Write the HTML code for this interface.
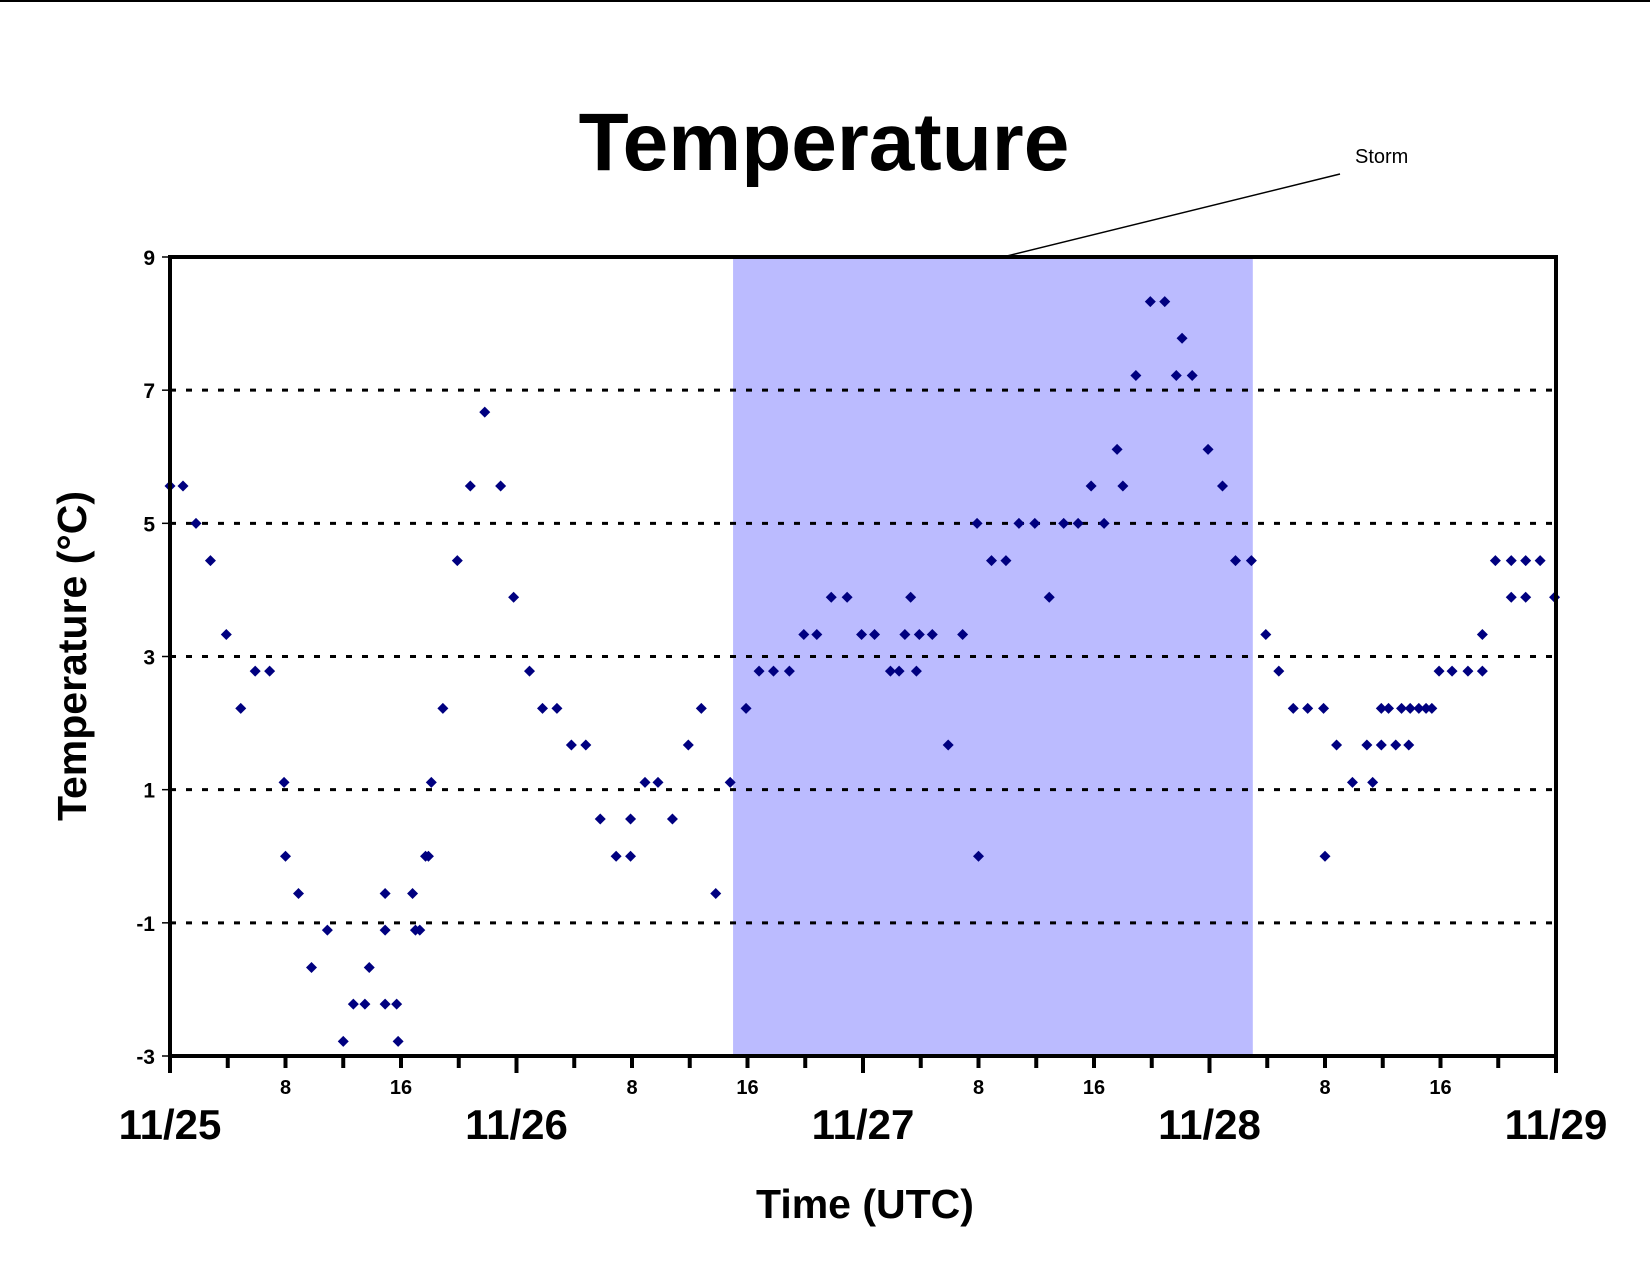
<!DOCTYPE html>
<html><head><meta charset="utf-8"><style>
html,body{margin:0;padding:0;background:#fff}
svg{display:block;font-family:"Liberation Sans",Arial,sans-serif}
</style></head><body>
<svg id="chart" width="1650" height="1275" viewBox="0 0 1650 1275" xmlns="http://www.w3.org/2000/svg">
<rect x="0" y="0" width="1650" height="1275" fill="#fff"/>
<line x1="0" y1="1" x2="1650" y2="1" stroke="#000" stroke-width="2"/>
<text x="824" y="170" text-anchor="middle" font-size="82" font-weight="bold">Temperature</text>
<g id="storm"></g>
<g id="grid"></g>
<g id="points"></g>
<g id="axes"></g>
<text x="1355" y="163" font-size="20">Storm</text>
<line x1="1340" y1="174" x2="1007" y2="256" stroke="#000" stroke-width="1.5"/>
<text transform="translate(86,656) rotate(-90)" text-anchor="middle" font-size="41" font-weight="bold">Temperature (°C)</text>
<text x="865" y="1218" text-anchor="middle" font-size="41" font-weight="bold">Time (UTC)</text>
</svg>
<script>
const hours=[0,0.9,1.8,2.8,3.9,4.9,5.9,6.9,7.9,8.0,8.9,9.8,10.9,12.0,12.7,13.5,13.8,14.9,14.9,14.9,15.7,15.8,16.8,17.0,17.3,17.7,17.9,18.1,18.9,19.9,20.8,21.8,22.9,23.8,24.9,25.8,26.8,27.8,28.8,29.8,30.9,31.9,31.9,32.9,33.8,34.8,35.9,36.8,37.8,38.8,39.9,40.8,41.8,42.9,43.9,44.8,45.8,46.9,47.9,48.8,49.9,50.5,51.3,50.9,51.7,51.9,52.8,53.9,54.9,55.9,56.0,56.9,57.9,58.8,59.9,60.9,61.9,62.9,63.8,64.7,65.6,66.0,66.9,67.9,68.9,69.7,70.1,70.8,71.9,72.9,73.8,74.9,75.9,76.8,77.8,78.8,79.9,80.0,80.8,81.9,82.9,83.3,83.9,83.9,84.4,84.9,85.3,85.8,85.9,86.5,87.0,87.4,87.9,88.8,89.9,90.9,90.9,91.8,92.9,92.9,93.9,93.9,94.9,95.9];
const temps=[5.56,5.56,5.0,4.44,3.33,2.22,2.78,2.78,1.11,0,-0.56,-1.67,-1.11,-2.78,-2.22,-2.22,-1.67,-0.56,-1.11,-2.22,-2.22,-2.78,-0.56,-1.11,-1.11,0,0,1.11,2.22,4.44,5.56,6.67,5.56,3.89,2.78,2.22,2.22,1.67,1.67,0.56,0,0.56,0,1.11,1.11,0.56,1.67,2.22,-0.56,1.11,2.22,2.78,2.78,2.78,3.33,3.33,3.89,3.89,3.33,3.33,2.78,2.78,3.89,3.33,2.78,3.33,3.33,1.67,3.33,5.0,0,4.44,4.44,5.0,5.0,3.89,5.0,5.0,5.56,5.0,6.11,5.56,7.22,8.33,8.33,7.22,7.78,7.22,6.11,5.56,4.44,4.44,3.33,2.78,2.22,2.22,2.22,0,1.67,1.11,1.67,1.11,2.22,1.67,2.22,1.67,2.22,1.67,2.22,2.22,2.22,2.22,2.78,2.78,2.78,2.78,3.33,4.44,4.44,3.89,4.44,3.89,4.44,3.89];
const yTicks=[9,7,5,3,1,-1,-3];
const gridVals=[7,5,3,1,-1];
const dayLabels=["11/25","11/26","11/27","11/28","11/29"];
const hourLabels=["8","16"];
const stormStart=39, stormEnd=75;
const X0=170,X1=1556,Y0=257,Y1=1056,HMAX=96,TMIN=-3,TMAX=9;
const NS="http://www.w3.org/2000/svg";
function xs(h){return X0+(h/HMAX)*(X1-X0);}
function ys(t){return Y1-(t-TMIN)/(TMAX-TMIN)*(Y1-Y0);}
function mk(tag,attrs,parent,txt){const e=document.createElementNS(NS,tag);for(const k in attrs)e.setAttribute(k,attrs[k]);if(txt!==undefined)e.textContent=txt;parent.appendChild(e);return e;}
const gS=document.getElementById('storm'),gG=document.getElementById('grid'),gP=document.getElementById('points'),gA=document.getElementById('axes');
const st=mk('rect',{x:xs(stormStart),y:Y0,width:xs(stormEnd)-xs(stormStart),height:Y1-Y0,fill:'#BBBBFF'},gS);


gridVals.forEach(v=>{const l=mk('line',{x1:X0,x2:X1,y1:ys(v),y2:ys(v),stroke:'#000','stroke-width':3,'stroke-dasharray':'6 10'},gG);

});
hours.forEach((h,i)=>{const x=xs(h),y=ys(temps[i]),r=5.5;
const p=mk('polygon',{points:`${x},${y-r} ${x+r},${y} ${x},${y+r} ${x-r},${y}`,fill:'#000080'},gP);

});
const frame=mk('rect',{x:X0,y:Y0,width:X1-X0,height:Y1-Y0,fill:'none',stroke:'#000','stroke-width':4},gA);


yTicks.forEach(v=>{const t=mk('line',{x1:X0-8,x2:X0,y1:ys(v),y2:ys(v),stroke:'#000','stroke-width':1.5},gA);


const lb=mk('text',{x:X0-15,y:ys(v)+8,'text-anchor':'end','font-size':21,'font-weight':'bold'},gA,String(v));

});
for(let h=0;h<=HMAX;h+=4){const day=h%24===0;
const t=mk('line',{x1:xs(h),x2:xs(h),y1:Y1,y2:Y1+(day?17:12),stroke:'#000','stroke-width':4},gA);


const hh=h%24;const idx=hh===8?0:(hh===16?1:-1);
if(idx>=0){const lb=mk('text',{x:xs(h),y:Y1+38,'text-anchor':'middle','font-size':20,'font-weight':'bold'},gA,hourLabels[idx]);

}}
dayLabels.forEach((d,i)=>{const lb=mk('text',{x:xs(i*24),y:1139,'text-anchor':'middle','font-size':42,'font-weight':'bold'},gA,d);

});
</script>
</body></html>
